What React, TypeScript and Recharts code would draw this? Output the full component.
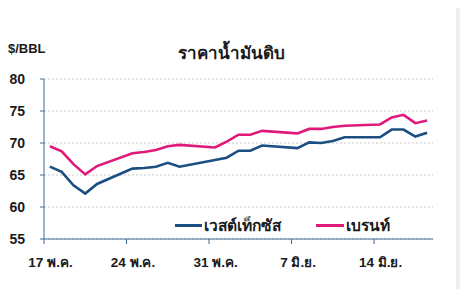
import React from "react";
import { LineChart, Line, XAxis, YAxis, CartesianGrid } from "recharts";

// day index: 0 = 17 May ... 32 = 18 Jun
const days = [0, 1, 2, 3, 4, 7, 8, 9, 10, 11, 14, 15, 16, 17, 18, 21, 22, 23, 24, 25, 28, 29, 30, 31, 32];
const wti = [66.3, 65.5, 63.4, 62.1, 63.6, 66.0, 66.1, 66.3, 66.9, 66.3, null, 67.7, 68.8, 68.8, 69.6, 69.2, 70.1, 70.0, 70.3, 70.9, 70.9, 72.1, 72.1, 71.0, 71.6];
const brent = [69.5, 68.7, 66.7, 65.1, 66.4, 68.4, 68.6, 68.9, 69.5, 69.7, 69.3, 70.2, 71.3, 71.3, 71.9, 71.5, 72.2, 72.2, 72.5, 72.7, 72.9, 74.0, 74.4, 73.1, 73.5];
const xTickDays = [-0.5, 6.5, 13.5, 20.5, 27.5];
const xTickLabels = ["17 พ.ค.", "24 พ.ค.", "31 พ.ค.", "7 มิ.ย.", "14 มิ.ย."];
const yTicks = [55, 60, 65, 70, 75, 80];
const seriesNames = ["เวสต์เท็กซัส", "เบรนท์"];
const title = "ราคาน้ำมันดิบ";
const unit = "$/BBL";

const data = days.map((d, i) => ({ day: d, wti: wti[i], brent: brent[i] }));

const BLUE = "#1B4F82";
const PINK = "#E0197B";
const AXIS = "#3B6B9A";
const FONT = "'Liberation Sans', Arial, Tahoma, sans-serif";

const XTick = (props: any) => {
  const { x, y, payload } = props;
  const idx = xTickDays.indexOf(payload.value);
  return (
    <text x={x + 6.5} y={y} dy={21} textAnchor="middle" fontSize={13.5} fontWeight="bold" fill="#1a1a1a" fontFamily={FONT}>
      {xTickLabels[idx]}
    </text>
  );
};

const LegendBox = () => (
  <div style={{ position: "absolute", left: 175, top: 213, display: "flex", alignItems: "center", fontFamily: FONT, fontWeight: "bold", fontSize: 15.5, color: "#1a1a1a" }}>
    <span style={{ display: "inline-block", width: 27, height: 3, background: BLUE, marginRight: 2 }} />
    <span>{seriesNames[0]}</span>
    <span style={{ display: "inline-block", width: 28, height: 3, background: PINK, marginLeft: 35, marginRight: 2 }} />
    <span>{seriesNames[1]}</span>
  </div>
);

export default function App() {
  return (
    <div style={{ position: "fixed", left: 0, top: 0, width: 460, height: 289, background: "#fff", overflow: "hidden" }}>
      <div style={{ position: "absolute", left: 456, top: 8, width: 4, height: 281, background: "#EFEFEF" }} />
      <div style={{ position: "absolute", left: 8, top: 41, fontFamily: FONT, fontWeight: "bold", fontSize: 13, color: "#1a1a1a" }}>{unit}</div>
      <div style={{ position: "absolute", left: 0, width: 463, top: 39, textAlign: "center", fontFamily: FONT, fontWeight: "bold", fontSize: 17, color: "#1a1a1a" }}>{title}</div>
      <LineChart width={460} height={289} data={data} margin={{ top: 79, right: 27, bottom: 20, left: 0 }}>
        <CartesianGrid vertical={false} stroke="#C8C8C8" strokeDasharray="2 2" />
        <XAxis
          dataKey="day"
          type="number"
          domain={[-0.5, 32.5]}
          ticks={xTickDays}
          height={30}
          stroke={AXIS}
          tickSize={5}
          tick={<XTick />}
          interval={0}
        />
        <YAxis
          domain={[55, 80]}
          ticks={yTicks}
          width={44}
          stroke={AXIS}
          tickSize={4}
          tickMargin={15}
          tick={{ fontSize: 14, fontWeight: "bold", fill: "#1a1a1a", fontFamily: FONT }}
        />
        <Line dataKey="wti" stroke={BLUE} strokeWidth={2.6} dot={false} connectNulls isAnimationActive={false} />
        <Line dataKey="brent" stroke={PINK} strokeWidth={2.6} dot={false} connectNulls isAnimationActive={false} />
      </LineChart>
      <LegendBox />
    </div>
  );
}
